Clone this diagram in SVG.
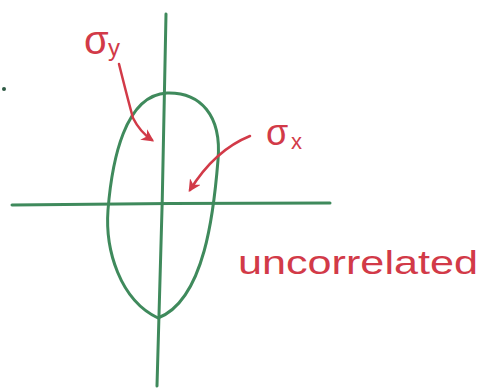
<svg xmlns="http://www.w3.org/2000/svg" width="486" height="388" viewBox="0 0 486 388">
<defs>
<style>
.g{fill:none;stroke:#3f8a5c;stroke-width:3;stroke-linecap:round;stroke-linejoin:round}
.r{fill:none;stroke:#d23a48;stroke-width:2.5;stroke-linecap:round;stroke-linejoin:round}
.t{fill:#d23a48;font-family:"Liberation Sans",Arial,sans-serif}
</style>
<marker id="ah" viewBox="0 0 10 10" refX="8" refY="5" markerWidth="5" markerHeight="5" orient="auto">
<path d="M0,0 L10,5 L0,10 L3,5 Z" fill="#d23a48"/>
</marker>
</defs>
<rect width="486" height="388" fill="#fff"/>
<g id="axes">
<path class="g" d="M166,14 Q163,200 157,386"/>
<path class="g" d="M12,205 Q170,203 330,203"/>
</g>
<g id="ellipse">
<path class="g" d="M167,93 C200,92 222,115 218,160 C214,210 205,300 158,318 C120,300 105,250 108,210 C112,160 125,95 167,93 Z"/>
</g>
<circle cx="4" cy="89" r="2" fill="#2f5a44"/>
<g id="connectors">
<path class="r" d="M119,64 Q128,100 133,118 Q140,132 152,140" marker-end="url(#ah)"/>
<path class="r" d="M250,136 Q215,150 190,190" marker-end="url(#ah)"/>
</g>
<g id="sigma-y">
<text class="t" x="84" y="54" font-size="40">σ</text>
<text class="t" x="108" y="56" font-size="24">y</text>
</g>
<g id="sigma-x">
<text class="t" x="266" y="145" font-size="36">σ</text>
<text class="t" x="291" y="149" font-size="22">x</text>
</g>
<g id="label">
<text class="t" x="238" y="274" font-size="34" textLength="240" lengthAdjust="spacingAndGlyphs">uncorrelated</text>
</g>
</svg>
